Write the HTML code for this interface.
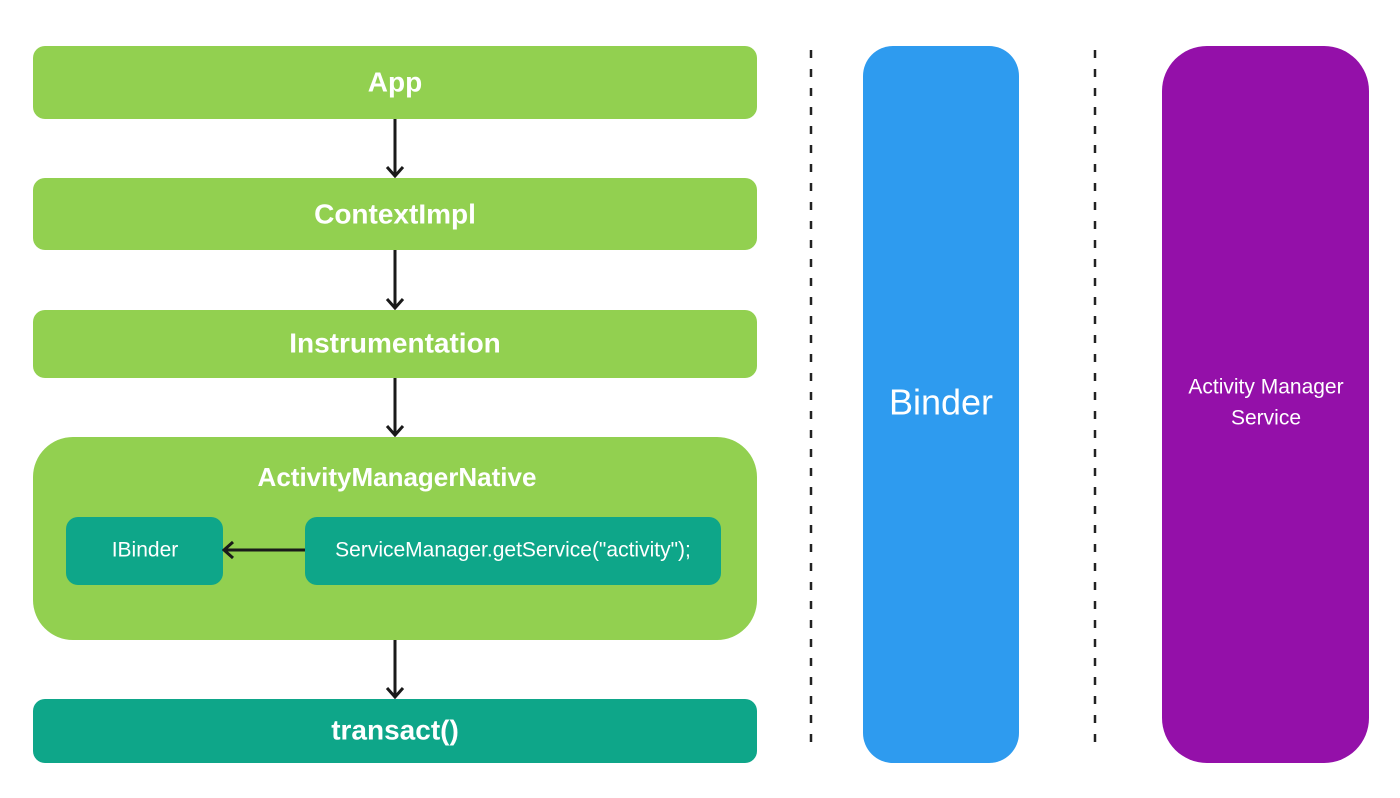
<!DOCTYPE html>
<html><head><meta charset="utf-8"><style>
html,body{margin:0;padding:0;background:#fff;}
svg{display:block;}
text{font-family:"Liberation Sans",sans-serif;fill:#fff;text-anchor:middle;dominant-baseline:central;}
</style></head><body>
<svg width="1400" height="798" viewBox="0 0 1400 798" xmlns="http://www.w3.org/2000/svg">
<defs>
<marker id="ah" markerWidth="14" markerHeight="20" refX="12" refY="10" orient="auto" markerUnits="userSpaceOnUse">
<path d="M3,2 L12,10 L3,18" fill="none" stroke="#1a1a1a" stroke-width="3"/>
</marker>
</defs>
<rect x="33" y="46" width="724" height="73" rx="12" fill="#92d050"/>
<text x="395" y="82" font-size="28" font-weight="bold">App</text>
<rect x="33" y="178" width="724" height="72" rx="12" fill="#92d050"/>
<text x="395" y="214" font-size="28" font-weight="bold">ContextImpl</text>
<rect x="33" y="310" width="724" height="68" rx="12" fill="#92d050"/>
<text x="395" y="343" font-size="28" font-weight="bold">Instrumentation</text>
<rect x="33" y="437" width="724" height="203" rx="40" fill="#92d050"/>
<text x="397" y="477" font-size="26" font-weight="bold">ActivityManagerNative</text>
<rect x="66" y="517" width="157" height="68" rx="12" fill="#0ea689"/>
<text x="145" y="550" font-size="21">IBinder</text>
<rect x="305" y="517" width="416" height="68" rx="12" fill="#0ea689"/>
<text x="513" y="550" font-size="21">ServiceManager.getService("activity");</text>
<rect x="33" y="699" width="724" height="64" rx="12" fill="#0ea689"/>
<text x="395" y="730" font-size="28" font-weight="bold">transact()</text>
<rect x="863" y="46" width="156" height="717" rx="30" fill="#2e9bef"/>
<text x="941" y="402" font-size="36">Binder</text>
<rect x="1162" y="46" width="207" height="717" rx="45" fill="#9410a9"/>
<text x="1266" y="387" font-size="21">Activity Manager</text>
<text x="1266" y="418" font-size="21">Service</text>
<line x1="811" y1="50" x2="811" y2="752" stroke="#222" stroke-width="2.5" stroke-dasharray="8,11"/>
<line x1="1095" y1="50" x2="1095" y2="752" stroke="#222" stroke-width="2.5" stroke-dasharray="8,11"/>
<g stroke="#1a1a1a" stroke-width="3" marker-end="url(#ah)">
<line x1="395" y1="119" x2="395" y2="176"/>
<line x1="395" y1="250" x2="395" y2="308"/>
<line x1="395" y1="378" x2="395" y2="435"/>
<line x1="395" y1="640" x2="395" y2="697"/>
<line x1="305" y1="550" x2="224" y2="550"/>
</g>
</svg>
</body></html>
